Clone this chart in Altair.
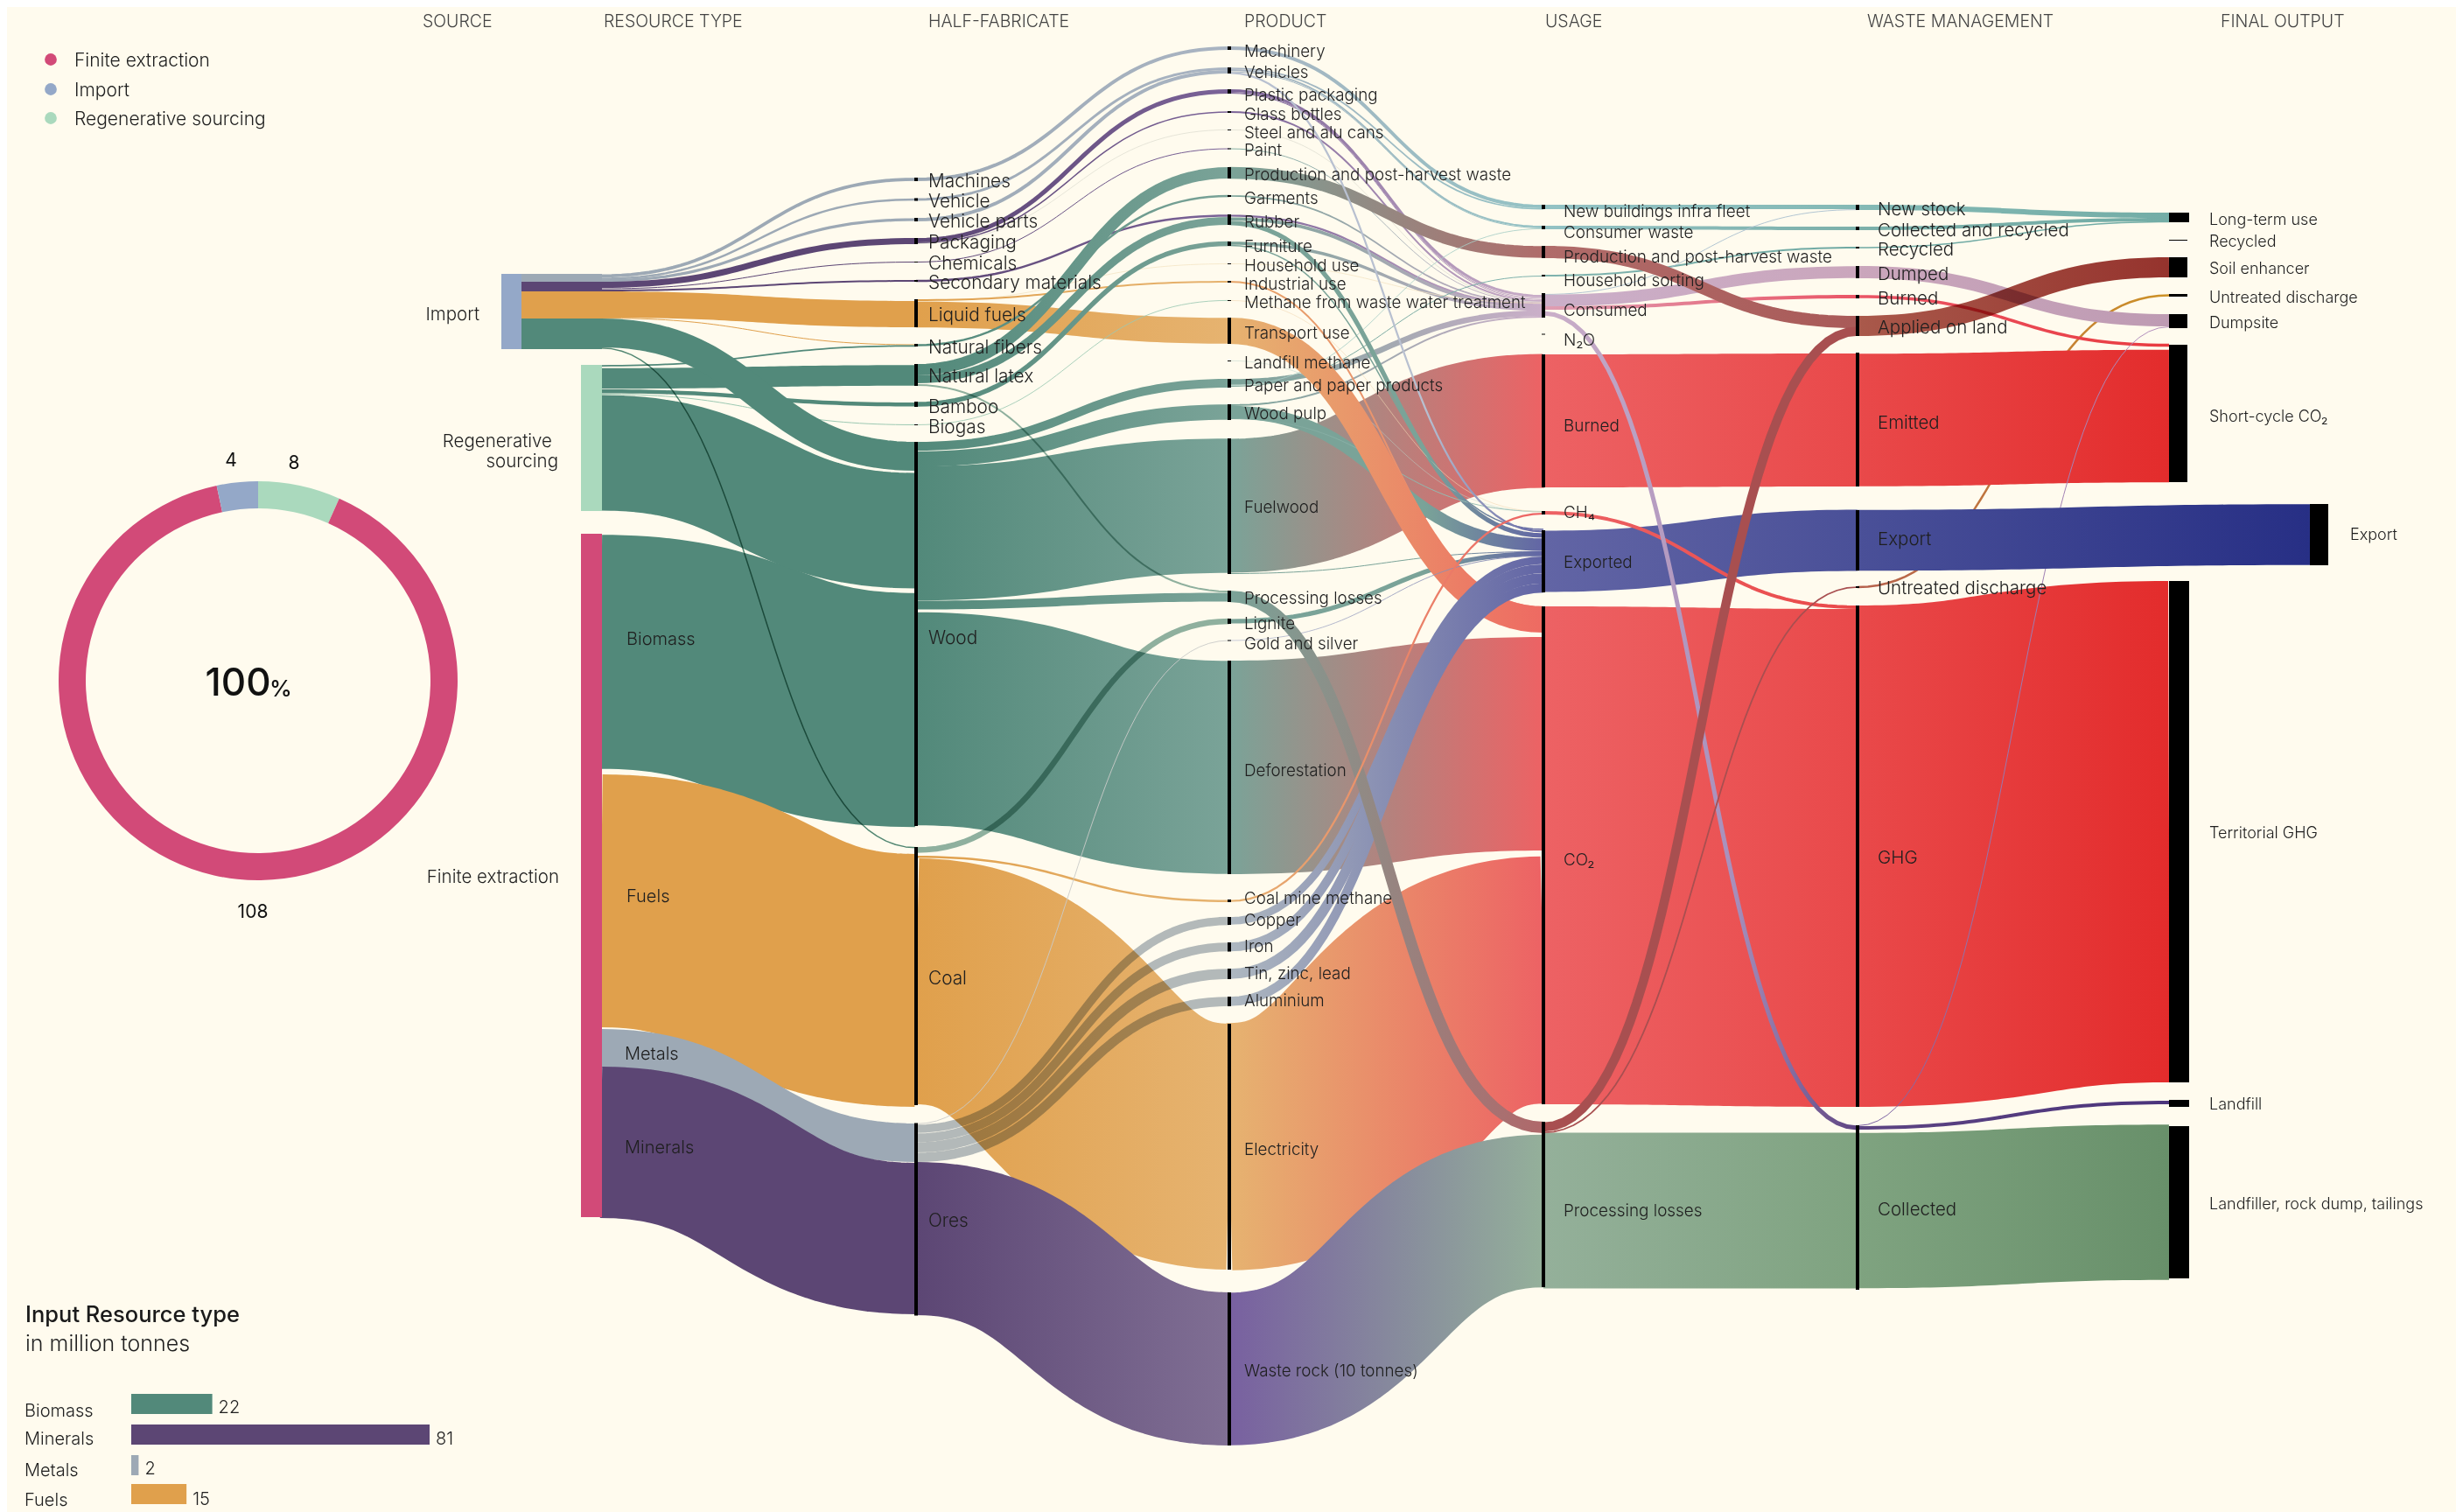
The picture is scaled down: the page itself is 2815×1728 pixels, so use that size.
import altair as alt
import pandas as pd

BG = "#FFFBEE"
W, H = 2799, 1720
FONT = "Inter"
INK = "#1F1F1F"

T1, T2 = "#52897A", "#7AA398"
TM = "#8FB3A9"
M1, M2 = "#9DA9B5", "#AEB8C0"
MM = "#B3BCC6"
P1, P2 = "#5C4674", "#7A6399"
O1, O2 = "#E0A04C", "#E6B370"
R = "#ED6264"
R2 = "#E9494A"
R3 = "#E32C2C"
LIL = "#CBAFC9"
BL = "#6265A5"
BL2 = "#4A5098"
MUL = "multiply"

# column positions
XR, XH, XP, XU, XW, XF, XE = 687, 1047, 1405, 1764, 2123, 2479, 2640

# source bars (name, x0, x1, y0, y1, colour)
SOURCE_BARS = [
    ("Import", 573, 597, 313, 399, "#94A8C8"),
    ("Regenerative sourcing", 664, 688, 417, 584, "#AAD9BD"),
    ("Finite extraction", 664, 688, 610, 1391, "#D24A78"),
    ("Import metals", 596, 688, 313, 322, M1),
    ("Import minerals", 596, 688, 322, 333, P1),
    ("Import fuels", 596, 688, 333, 364, O1),
    ("Import biomass", 596, 688, 364, 399, T1),
]

# links: source top, source bottom, target top, target bottom, colour from, colour to, blend
STAGE_1 = [
    (610, 880, 679, 944, T1, T1, None),
    (452, 583, 540, 673, T1, T1, None),
    (883, 1176, 978, 1263, O1, O1, None),
    (1176, 1220, 1284, 1328, M1, M1, None),
    (1220, 1391, 1328, 1503, P1, P1, None),
    (333, 363, 344, 374, O1, O1, None),
    (363, 364, 393.5, 394.5, O1, O1, None),
    (421, 444, 417, 441, T1, T1, None),
    (417, 419, 394.5, 396, T1, T1, None),
    (445, 449.5, 460, 464.5, T1, T1, None),
    (450, 451, 485, 486, "#9CC9B2", "#9CC9B2", None),
    (364, 397, 505, 538, T1, T1, None),
    (397, 398.5, 968, 969.5, T1, T1, MUL),
    (313.5, 317, 203, 207, M1, M1, None),
    (317.5, 319.5, 226.5, 229.5, M1, M1, None),
    (319.5, 322, 249, 253, M1, M1, None),
    (322, 329, 272, 279, P1, P1, None),
    (329.5, 330.5, 299, 300, P1, P1, None),
    (331, 333, 320, 322, P1, P1, None),
]

STAGE_2 = [
    (533, 686, 501, 655, T1, T2, None),
    (700, 943, 755, 999, T1, T2, None),
    (981, 1262, 1170, 1451, O1, O2, None),
    (1328, 1503, 1477, 1652, P1, "#806F94", None),
    (505, 515, 433, 443, T1, T2, None),
    (516, 533, 462, 480, T1, T2, None),
    (687, 696, 677, 688, T1, T2, None),
    (203, 207, 53, 57, M1, "#A9B4C2", None),
    (226.5, 229.5, 77, 80, M1, "#A9B4C2", None),
    (249, 253, 80, 84, M1, "#A9B4C2", None),
    (272, 277, 102, 107, P1, "#7B6398", None),
    (277, 278, 127, 129, P1, "#7B6398", None),
    (278, 278.6, 148, 148.7, "#D9D9CC", "#D9D9CC", None),
    (299, 300, 169.5, 170.5, P1, "#7B6398", None),
    (320, 322, 245, 248, P1, "#7B6398", None),
    (344, 344.6, 301, 302, "#F4E4C4", "#F4E4C4", None),
    (342, 344, 321, 323, O1, O2, None),
    (345, 374, 363, 393, O1, O2, None),
    (393, 396, 223, 225, T1, T2, None),
    (416, 429, 191, 204, T1, T2, None),
    (429, 438, 248, 257, T1, T2, None),
    (459, 465, 276, 281, T1, T2, None),
    (439, 441, 675, 677, TM, TM, MUL),
    (485, 486, 343, 343.7, "#9CC9B2", "#9CC9B2", None),
    (968, 975, 707, 713, TM, TM, MUL),
    (978, 980.5, 1028.5, 1031, O1, O2, None),
    (1284, 1284.8, 731.5, 732.5, "#C9CBC8", "#C9CBC8", None),
    (1285, 1295, 1048, 1057, MM, MM, MUL),
    (1295.5, 1305, 1077, 1087.5, MM, MM, MUL),
    (1305.5, 1317, 1107, 1119, MM, MM, MUL),
    (1317.5, 1328, 1139, 1150, MM, MM, MUL),
]

STAGE_3 = [
    (501, 655, 405, 557, T2, R, None),
    (755, 999, 728, 972, T2, R, None),
    (1170, 1451, 978, 1262, O2, R, None),
    (1477, 1652, 1297, 1471, "#7860A0", "#94B09A", None),
    (53, 57, 234, 238, "#A9B4C2", "#93C2C4", None),
    (77, 79, 238, 239.5, "#A9B4C2", "#93C2C4", None),
    (79, 81, 258, 260, "#A9B4C2", "#93C2C4", None),
    (81.5, 82.5, 260, 261, "#A9B4C2", "#93C2C4", None),
    (102, 105, 337, 340, "#7B6398", LIL, None),
    (105, 106, 340.5, 341.5, "#7B6398", LIL, None),
    (106, 107, 342, 343, "#7B6398", LIL, None),
    (127, 129, 343, 345, "#7B6398", LIL, None),
    (148, 148.7, 345, 345.6, "#D9D9CC", "#D9D9CC", None),
    (169.5, 170.5, 345.5, 346.2, "#6FA398", LIL, None),
    (191, 204, 281, 295, T2, "#B06C6A", None),
    (223, 225, 346, 347.5, T2, LIL, None),
    (245, 248, 347.5, 349, "#7B6398", LIL, None),
    (248, 252.5, 349, 352, T2, LIL, None),
    (276, 280, 352, 355, T2, LIL, None),
    (301, 302, 346, 346.6, "#F4E4C4", "#F4E4C4", None),
    (433, 440, 355, 361, T2, LIL, None),
    (440, 441, 261, 261.7, "#A9CFC6", "#A9CFC6", None),
    (441, 442, 315, 316, T2, "#7FB3AE", None),
    (462, 464, 361, 363, T2, LIL, None),
    (464, 478, 615, 630, T2, BL, None),
    (252.5, 257, 609, 615, T2, BL, None),
    (478, 479, 584, 585, T2, "#9FC5BC", None),
    (343, 343.7, 584.5, 585, "#F1D9B4", "#F1D9B4", None),
    (412, 412.5, 585, 585.5, "#BBD4CB", "#BBD4CB", None),
    (280, 281, 604, 606, T2, BL, None),
    (655, 656, 630, 631, T2, BL, None),
    (707, 713, 630.5, 635, T2, BL, None),
    (82.5, 84, 606, 609, "#B8C0D0", BL, None),
    (321, 323, 693, 695, "#E6A56A", "#EE8070", None),
    (363, 393, 693, 723, O2, "#EE6A62", None),
    (731.5, 732.5, 635, 635.7, "#C0C5D5", "#7077A8", None),
    (1048, 1057, 636, 644.5, M2, BL, None),
    (1077, 1087.5, 645, 655, M2, BL, None),
    (1107, 1119, 655.5, 666.5, M2, BL, None),
    (1139, 1150, 667, 677, M2, BL, None),
    (675, 688, 1282, 1295, T2, "#B0686A", None),
    (1028.5, 1031, 586, 588, O2, R, None),
]

STAGE_4 = [
    (693, 1262, 696, 1265, R, R2, None),
    (405, 557, 404, 556, R, R2, None),
    (606, 677, 583, 652, BL, BL2, None),
    (1296, 1471, 1293, 1474, "#94B09A", "#7FA380", None),
    (234, 239, 234, 239, "#93C2C4", "#84B9B5", None),
    (258, 262, 259, 263, "#93C2C4", "#7CB0AA", None),
    (314, 316, 282, 284, "#7FB3AE", "#6FA9A3", None),
    (336, 337, 239.2, 240, "#A9BFCF", "#A9BFCF", None),
    (337, 350, 304, 318, LIL, "#CAA6BC", None),
    (350, 354, 337, 341, "#DE9FB4", "#EA5566", None),
    (281, 295, 361, 375, "#B06C6A", "#A95A58", None),
    (584, 588, 692, 696, R, R2, None),
    (355, 361, 1287, 1291, LIL, "#5D4482", None),
    (1283, 1293, 373, 384, "#A84F50", "#A84F50", None),
    (1293.5, 1295, 670, 672, "#A84F50", "#A84F50", None),
]

STAGE_5 = [
    (670, 672, 336, 339, "#B5604E", "#CD9226", None),
    (404, 556, 400, 551, R2, R3, None),
    (692, 1265, 664, 1237, R2, R3, None),
    (234, 240, 243, 249, "#84B9B5", "#73ADA6", None),
    (259, 263, 249, 253, "#7CB0AA", "#73ADA6", None),
    (282, 284, 253, 254, "#6FA9A3", "#73ADA6", None),
    (304, 318, 359, 373, "#CAA6BC", "#BE9BB3", None),
    (337, 341, 393, 396, "#EA5566", "#E93B40", None),
    (361, 384, 294, 317, "#A95A50", "#953430", MUL),
    (1293, 1474, 1287, 1461, "#7FA380", "#68906A", None),
    (1286, 1287, 373, 374, "#7A60A0", "#B792BE", None),
    (1287, 1291, 1258, 1262, "#5D4482", "#4B347C", None),
]
EXPORT_LINK = (583, 652, 576, 646, BL2, "#272F85", None)

# (label, node top, node bottom, label y)
HALF = [
    ("Machines", 203, 207, 206), ("Vehicle", 226.5, 229.5, 229), ("Vehicle parts", 249, 253, 252),
    ("Packaging", 272, 279, 276), ("Chemicals", 299, 300, 300), ("Secondary materials", 320, 322, 322),
    ("Liquid fuels", 342, 374, 359), ("Natural fibers", 393, 396, 396), ("Natural latex", 416, 441, 429),
    ("Bamboo", 459, 465, 464), ("Biogas", 485, 486, 487), ("Wood", 505, 944, 728),
    ("Coal", 968, 1263, 1117), ("Ores", 1283.5, 1503.5, 1394),
]
PRODUCT = [
    ("Machinery", 53, 57, 57), ("Vehicles", 77, 84, 81), ("Plastic packaging", 102, 107, 107),
    ("Glass bottles", 127, 129, 129), ("Steel and alu cans", 148, 149, 150), ("Paint", 169.5, 170.5, 170),
    ("Production and post-harvest waste", 191, 204, 198), ("Garments", 223, 225, 225), ("Rubber", 245, 257, 252),
    ("Furniture", 276, 281, 280), ("Household use", 301, 302, 302), ("Industrial use", 321, 323, 323),
    ("Methane from waste water treatment", 343, 344, 344), ("Transport use", 363, 393, 379),
    ("Landfill methane", 412, 413, 413), ("Paper and paper products", 433, 443, 439), ("Wood pulp", 462, 480, 471),
    ("Fuelwood", 501, 656, 578), ("Processing losses", 675, 688, 682), ("Lignite", 707, 713, 711),
    ("Gold and silver", 731.5, 732.5, 734), ("Deforestation", 755, 999, 879), ("Coal mine methane", 1028, 1031, 1025),
    ("Copper", 1048, 1057, 1050), ("Iron", 1077, 1087.5, 1080), ("Tin, zinc, lead", 1107, 1119, 1111),
    ("Aluminium", 1139, 1150, 1142), ("Electricity", 1170, 1451, 1312), ("Waste rock (10 tonnes)", 1477, 1652, 1565),
]
USAGE = [
    ("New buildings infra fleet", 234, 239, 240), ("Consumer waste", 258, 262, 264),
    ("Production and post-harvest waste", 281, 295, 292), ("Household sorting", 314, 316, 319),
    ("Consumed", 335, 363, 353), ("N₂O", 381.5, 382.5, 387), ("Burned", 405, 557, 485), ("CH₄", 584, 588, 584),
    ("Exported", 606, 677, 641), ("CO₂", 693, 1262, 981), ("Processing losses", 1282, 1471, 1382),
]
WASTE = [
    ("New stock", 234, 240, 238), ("Collected and recycled", 259, 263, 262), ("Recycled", 282, 284, 284),
    ("Dumped", 304, 318, 312), ("Burned", 337, 341, 340), ("Applied on land", 361, 384, 373),
    ("Emitted", 403, 556, 482), ("Export", 583, 652, 615), ("Untreated discharge", 670, 672, 671),
    ("GHG", 692, 1265, 979), ("Collected", 1286, 1474, 1381),
]
# (label, x0, x1, top, bottom, label x, label y)
FINAL = [
    ("Long-term use", 2479, 2502, 243, 254, 2525, 250), ("Recycled", 2479, 2500, 274, 275, 2525, 275),
    ("Soil enhancer", 2479, 2500, 294, 317, 2525, 306), ("Untreated discharge", 2479, 2500, 336, 339, 2525, 339),
    ("Dumpsite", 2479, 2500, 359, 375, 2525, 368), ("Short-cycle CO₂", 2479, 2500, 394, 551, 2525, 475),
    ("Export", 2640, 2661, 576, 646, 2686, 610), ("Territorial GHG", 2479, 2502, 664, 1237, 2525, 951),
    ("Landfill", 2479, 2502, 1257, 1265, 2525, 1261), ("Landfiller, rock dump, tailings", 2479, 2502, 1287, 1461, 2525, 1375),
]
HEADERS = [("SOURCE", 483), ("RESOURCE TYPE", 690), ("HALF-FABRICATE", 1061), ("PRODUCT", 1422),
           ("USAGE", 1766), ("WASTE MANAGEMENT", 2134), ("FINAL OUTPUT", 2538)]
SOURCE_LABELS_R = [("Import", 548, 358), ("Regenerative", 631, 503), ("sourcing", 638, 526), ("Finite extraction", 639, 1001)]
RESOURCE_LABELS = [("Biomass", 716, 729), ("Fuels", 716, 1023), ("Metals", 714, 1203), ("Minerals", 714, 1310)]

LEGEND = [("Finite extraction", "#D24A78", 68), ("Import", "#94A8C8", 102), ("Regenerative sourcing", "#AAD9BD", 135)]
DONUT = [("Regenerative sourcing", 8, "#AAD9BD", 1), ("Finite extraction", 108, "#D24A78", 2), ("Import", 4, "#94A8C8", 3)]
DONUT_LABELS = [("4", 264, 525), ("8", 336, 528), ("108", 289, 1041)]

RES_NAMES = ["Biomass", "Minerals", "Metals", "Fuels"]
RES_VALUES = [22, 81, 2, 15]
RES_COLORS = [T1, P1, M1, O1]
RES_BAND = [(1593, 1616), (1628, 1651), (1663, 1686), (1696, 1719)]
RES_NAME_Y = [1611, 1643, 1679, 1713]
RES_VAL_Y = [1607, 1643, 1677, 1712]

XS = alt.Scale(domain=[8, 8 + W], nice=False, zero=False)
YS = alt.Scale(domain=[8 + H, 8], nice=False, zero=False)


def X(f="x"):
    return alt.X(f"{f}:Q", scale=XS, axis=None)


def Y(f="y"):
    return alt.Y(f"{f}:Q", scale=YS, axis=None)


def ribbon(x0, x1, link):
    a0, a1, b0, b1, c0, c1, blend = link
    w = ((a1 - a0) + (b1 - b0)) / 2
    y0, y1 = (a0 + a1) / 2, (b0 + b1) / 2
    if y0 == y1:
        y1 += 0.02
    xm = (x0 + x1) / 2
    rows = []
    n = 44
    for i in range(n + 1):
        t = i / n
        u = 1 - t
        bx = u**3 * x0 + 3 * u * u * t * xm + 3 * u * t * t * xm + t**3 * x1
        by = u**3 * y0 + 3 * u * u * t * y0 + 3 * u * t * t * y1 + t**3 * y1
        rows.append({"x": round(bx, 2), "y": round(by, 2)})
    kw = {"strokeWidth": w, "strokeCap": "butt", "strokeJoin": "round"}
    if blend:
        kw["blend"] = blend
    if c0 == c1:
        kw["stroke"] = c0
    else:
        stops = [{"offset": 0, "color": c0}, {"offset": 1, "color": c1}]
        if c1 == BL and w < 30 and c0 in (T2, "#B8C0D0"):
            # teal strands into Exported keep their colour until close to the node
            stops.insert(1, {"offset": 0.62, "color": c0})
        if c0 == LIL and c1 == "#5D4482":
            stops.insert(1, {"offset": 0.6, "color": "#A890BC"})
        kw["stroke"] = {"gradient": "linear", "stops": stops, "x1": 0, "x2": 1, "y1": 0, "y2": 0}
    return alt.Chart(pd.DataFrame(rows)).mark_line(**kw).encode(x=X(), y=Y())


def labels(rows, size, align="left", weight=300, color=INK):
    df = pd.DataFrame(rows, columns=["t", "x", "y"])
    return alt.Chart(df).mark_text(
        align=align, baseline="middle", font=FONT, fontWeight=weight, color=color, fontSize=size, dy=2
    ).encode(x=X(), y=Y(), text="t:N")


layers = []
for link in STAGE_1:
    layers.append(ribbon(XR, XH, link))
for link in STAGE_2:
    layers.append(ribbon(XH, XP, link))
for link in STAGE_3:
    layers.append(ribbon(XP, XU, link))
for link in STAGE_4:
    layers.append(ribbon(XU, XW, link))
for link in STAGE_5:
    layers.append(ribbon(XW, XF, link))
layers.append(ribbon(XW, XE, EXPORT_LINK))

# source bars
src = pd.DataFrame(SOURCE_BARS, columns=["n", "x", "x2", "y", "y2", "c"])
layers.append(alt.Chart(src).mark_rect().encode(
    x=X(), x2="x2:Q", y=Y(), y2="y2:Q", color=alt.Color("c:N", scale=None)))

# node bars
nodes = []
for table, cx in ((HALF, XH), (PRODUCT, XP), (USAGE, XU), (WASTE, XW)):
    for name, a, b, _ in table:
        nodes.append({"x": cx - 2, "x2": cx + 2, "y": a, "y2": max(b, a + 1)})
for name, x0, x1, a, b, _, _ in FINAL:
    nodes.append({"x": x0, "x2": x1, "y": a, "y2": max(b, a + 1)})
layers.append(alt.Chart(pd.DataFrame(nodes)).mark_rect(color="#000000").encode(
    x=X(), x2="x2:Q", y=Y(), y2="y2:Q"))

# donut
don = pd.DataFrame(DONUT, columns=["n", "v", "c", "o"])
layers.append(alt.Chart(don).mark_arc(radius=228, radius2=197).encode(
    theta=alt.Theta("v:Q", stack=True),
    order=alt.Order("o:Q"),
    color=alt.Color("c:N", scale=None),
    x=alt.value(295 - 8), y=alt.value(778 - 8)))

# legend dots
leg = pd.DataFrame(LEGEND, columns=["t", "c", "y"]).assign(x=58)
layers.append(alt.Chart(leg).mark_point(filled=True, size=190, opacity=1, shape="circle").encode(
    x=X(), y=Y(), color=alt.Color("c:N", scale=None)))

# texts
layers.append(labels([(n, 1061, ly) for n, _, _, ly in HALF], 20.8))
layers.append(labels([(n, 1422, ly) for n, _, _, ly in PRODUCT], 18.8))
layers.append(labels([(n, 1787, ly) for n, _, _, ly in USAGE], 18.9))
layers.append(labels([(n, 2146, ly) for n, _, _, ly in WASTE], 20.5))
layers.append(labels([(n, lx, ly) for n, _, _, _, _, lx, ly in FINAL], 18))
layers.append(labels(RESOURCE_LABELS, 20))
layers.append(labels([(t, lx, 23) for t, lx in HEADERS], 19.5, color="#444444"))
layers.append(labels(SOURCE_LABELS_R, 20.5, align="right"))
layers.append(labels([(t, 85, ly) for t, _, ly in LEGEND], 21))
layers.append(labels([("Input Resource type", 29, 1501)], 25.5, weight=500, color="#1A1A1A"))
layers.append(labels([("in million tonnes", 29, 1534)], 25))
layers.append(labels(list(zip(RES_NAMES, [28] * 4, RES_NAME_Y)), 20))
layers.append(labels(DONUT_LABELS, 21, align="center", weight=400, color="#111111"))
layers.append(labels([("100", 272, 780)], 44, align="center", weight=500, color="#111111"))
layers.append(labels([("%", 321, 786)], 26, align="center", weight=500, color="#111111"))

sankey = alt.layer(*layers)

# resource bars, with their own x scale
res = pd.DataFrame({"n": RES_NAMES, "v": RES_VALUES, "c": RES_COLORS,
                    "y": [b[0] for b in RES_BAND], "y2": [b[1] for b in RES_BAND],
                    "ly": RES_VAL_Y, "zero": [0, 0, 0, 0]})
VX = alt.Scale(domain=[0, 81], range=[150 - 8, 491 - 8], nice=False, zero=False)
bars = alt.Chart(res).mark_rect().encode(
    x=alt.X("zero:Q", scale=VX, axis=None), x2="v:Q",
    y=Y(), y2="y2:Q", color=alt.Color("c:N", scale=None))
vals = alt.Chart(res).mark_text(align="left", baseline="middle", font=FONT, fontWeight=300, color=INK, fontSize=20, dx=7, dy=2).encode(
    x=alt.X("v:Q", scale=VX, axis=None), y=Y("ly"), text="v:Q")
barlayer = alt.layer(bars, vals)

chart = alt.layer(sankey, barlayer).resolve_scale(x="independent").properties(
    width=W, height=H, padding=0, background=BG,
    autosize=alt.AutoSizeParams(type="none"),
).configure_view(stroke=None)

chart.save("out.html", embed_options={"renderer": "svg", "actions": False})
